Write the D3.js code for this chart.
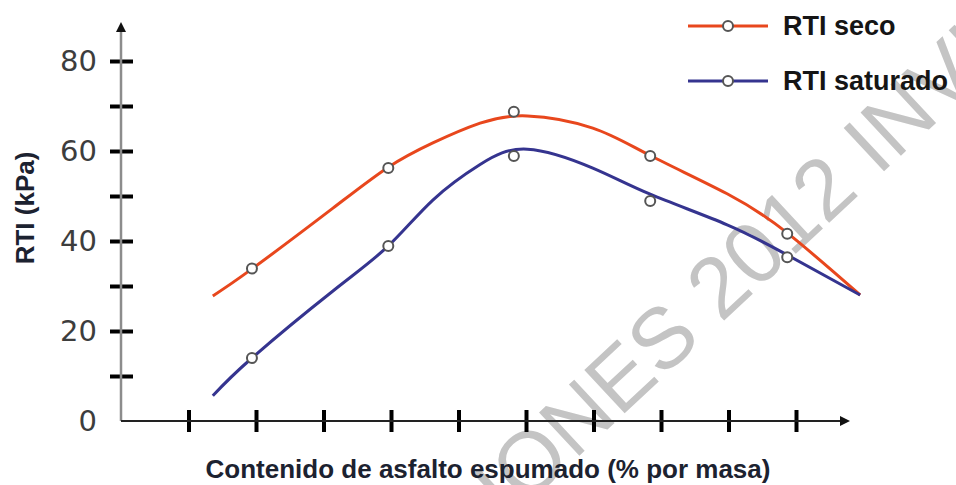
<!DOCTYPE html>
<html>
<head>
<meta charset="utf-8">
<script src="https://cdn.jsdelivr.net/npm/d3@7"></script>
<style>
  html, body { margin: 0; padding: 0; background: #fff; }
  svg { display: block; }
</style>
</head>
<body>
<div id="chart"></div>
<script>
// measured points (x in tick units along the unlabelled axis, RTI in kPa)
let pointX = [1.94, 3.96, 5.82, 7.84, 9.87];
let secoValues = [33.9, 56.2, 68.7, 58.9, 41.6];
let saturadoValues = [14.0, 38.9, 58.9, 48.9, 36.4];

// fitted curves
let curveX = [1.36, 1.94, 3.14, 3.96, 4.62, 5.32, 6.02, 6.99, 7.84, 8.98, 9.87, 10.95];
let secoCurve = [27.8, 33.8, 47.3, 56.4, 61.8, 66.2, 67.8, 65.1, 59.0, 50.5, 41.8, 28.0];
let saturadoCurve = [5.6, 14.0, 28.9, 38.9, 49.1, 57.0, 60.4, 56.2, 50.4, 43.6, 36.9, 28.0];

let yTicks = [10, 20, 30, 40, 50, 60, 70, 80];
let yLabels = [0, 20, 40, 60, 80];
let xTicks = [1, 2, 3, 4, 5, 6, 7, 8, 9, 10];

let seriesNames = ["RTI seco", "RTI saturado"];
let seriesColors = ["#e8471d", "#35348f"];

const width = 956, height = 485;
const svg = d3.select("#chart").append("svg")
  .attr("width", width)
  .attr("height", height);

const x = d3.scaleLinear().domain([0, 11]).range([121, 121 + 67.5 * 11]);
const y = d3.scaleLinear().domain([0, 80]).range([421, 421 - 4.5 * 80]);

// watermark
const wm = svg.append("g")
  .attr("transform", "translate(866,146) rotate(-43)");
const wmText = wm.append("text")
  .attr("font-family", "Liberation Sans, Arial, sans-serif")
  .attr("font-size", 86)
  .attr("fill", "#c4c4c4")
  .attr("dy", "0.36em")
  .text("ESPECIFICACIONES 2012 INVIAS");
{
  // centre the "I" of INVIAS on the anchor point
  let s = "ESPECIFICACIONES 2012 INVIAS";
  let idx = s.indexOf("INVIAS");
  let node = wmText.node();
  let off = node.getSubStringLength(0, idx) + node.getSubStringLength(idx, 1) / 2;
  wmText.attr("x", -off);
}

// y axis
const yAxis = svg.append("g")
  .attr("transform", "translate(" + x(0) + ",0)")
  .call(d3.axisLeft(y).tickValues(yTicks).tickSize(0).tickFormat(""));
yAxis.select(".domain").remove();
yAxis.selectAll(".tick line")
  .attr("x1", -11).attr("x2", 12)
  .attr("stroke", "#000").attr("stroke-width", 4);
svg.append("line")
  .attr("x1", x(0)).attr("x2", x(0))
  .attr("y1", y(0)).attr("y2", 30)
  .attr("stroke", "#8c8c8c").attr("stroke-width", 2.5);
svg.append("path")
  .attr("d", `M${x(0)},22 L${x(0) - 5},32 L${x(0) + 5},32 Z`)
  .attr("fill", "#111");

svg.append("g").selectAll("text")
  .data(yLabels)
  .enter().append("text")
    .attr("x", 97)
    .attr("y", d => y(d))
    .attr("dy", "0.36em")
    .attr("text-anchor", "end")
    .attr("font-family", "DejaVu Sans, Verdana, sans-serif")
    .attr("font-size", 29)
    .attr("fill", "#3d3d3d")
    .text(d => d);

// x axis
const xAxis = svg.append("g")
  .attr("transform", "translate(0," + y(0) + ")")
  .call(d3.axisBottom(x).tickValues(xTicks).tickSize(0).tickFormat(""));
xAxis.select(".domain").remove();
xAxis.selectAll(".tick line")
  .attr("y1", -11).attr("y2", 11)
  .attr("stroke", "#000").attr("stroke-width", 4);
svg.append("line")
  .attr("x1", x(0)).attr("x2", 842)
  .attr("y1", y(0)).attr("y2", y(0))
  .attr("stroke", "#222").attr("stroke-width", 2);
svg.append("path")
  .attr("d", `M850,${y(0)} L840,${y(0) - 5} L840,${y(0) + 5} Z`)
  .attr("fill", "#111");

// axis titles
svg.append("text")
  .attr("x", 488).attr("y", 478)
  .attr("text-anchor", "middle")
  .attr("font-family", "Liberation Sans, Arial, sans-serif")
  .attr("font-weight", "bold")
  .attr("font-size", 26)
  .attr("fill", "#1c2230")
  .text("Contenido de asfalto espumado (% por masa)");

svg.append("text")
  .attr("transform", "translate(34,208) rotate(-90)")
  .attr("text-anchor", "middle")
  .attr("font-family", "Liberation Sans, Arial, sans-serif")
  .attr("font-weight", "bold")
  .attr("font-size", 26)
  .attr("fill", "#1c2230")
  .text("RTI (kPa)");

// curves
const line = d3.line()
  .x(d => x(d[0]))
  .y(d => y(d[1]))
  .curve(d3.curveNatural);

const curves = [secoCurve, saturadoCurve];
const points = [secoValues, saturadoValues];

curves.forEach((c, i) => {
  svg.append("path")
    .datum(curveX.map((v, j) => [v, c[j]]))
    .attr("fill", "none")
    .attr("stroke", seriesColors[i])
    .attr("stroke-width", 3)
    .attr("d", line);
});

points.forEach((p, i) => {
  svg.append("g").selectAll("circle")
    .data(pointX.map((v, j) => [v, p[j]]))
    .enter().append("circle")
      .attr("cx", d => x(d[0]))
      .attr("cy", d => y(d[1]))
      .attr("r", 5)
      .attr("fill", "#fff")
      .attr("stroke", "#555")
      .attr("stroke-width", 2);
});

// legend
const legend = svg.append("g");
seriesNames.forEach((name, i) => {
  let ly = 26 + i * 55;
  legend.append("line")
    .attr("x1", 688).attr("x2", 768)
    .attr("y1", ly).attr("y2", ly)
    .attr("stroke", seriesColors[i]).attr("stroke-width", 3);
  legend.append("circle")
    .attr("cx", 728).attr("cy", ly).attr("r", 5)
    .attr("fill", "#fff").attr("stroke", "#555").attr("stroke-width", 2);
  legend.append("text")
    .attr("x", 783).attr("y", ly + 9)
    .attr("font-family", "Liberation Sans, Arial, sans-serif")
    .attr("font-weight", "bold")
    .attr("font-size", 27)
    .attr("fill", "#151515")
    .text(name);
});
</script>
</body>
</html>
